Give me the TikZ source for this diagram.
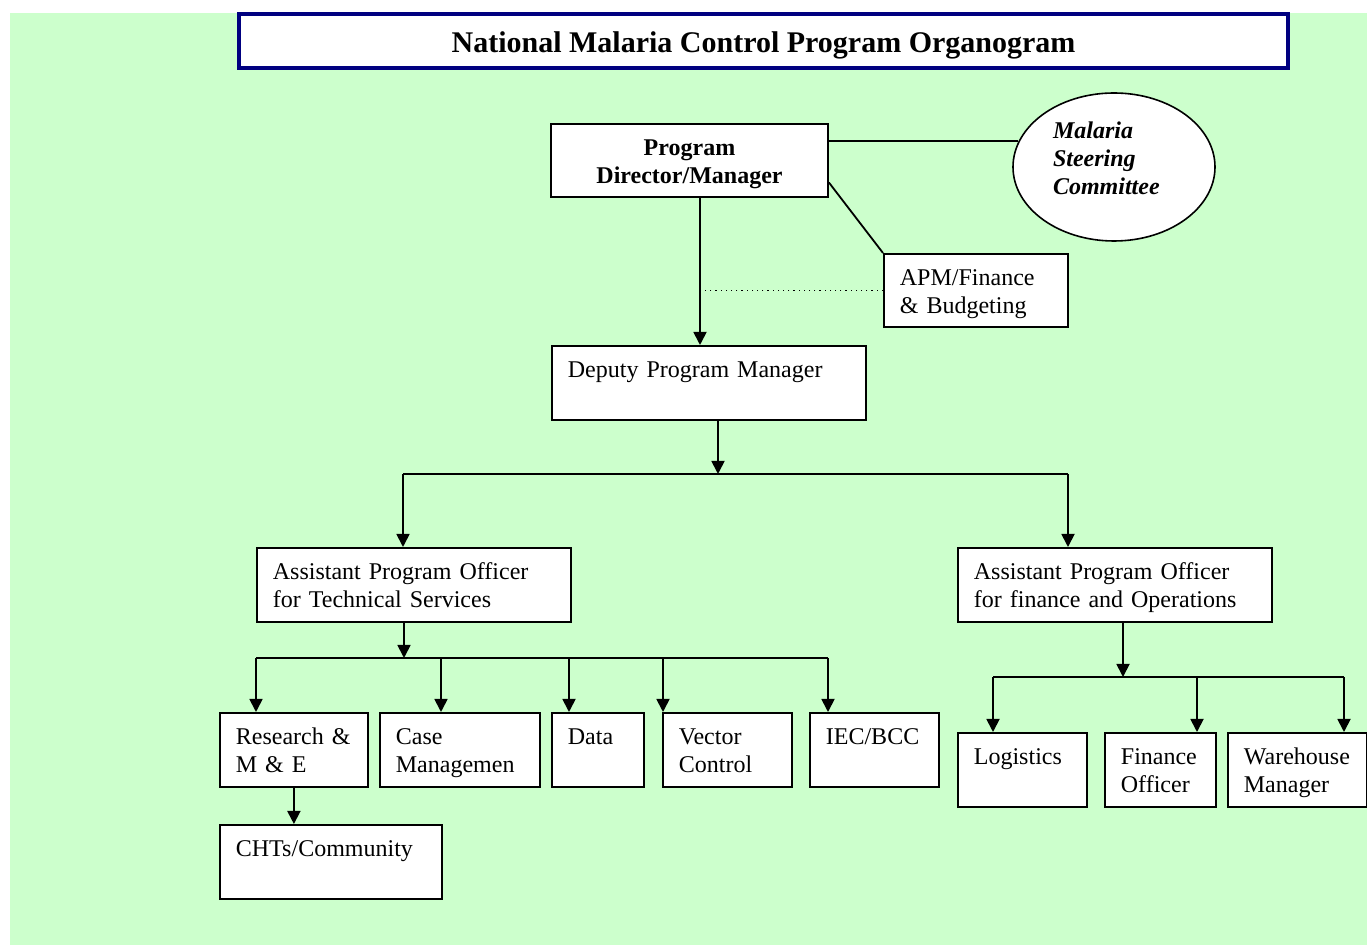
\documentclass[tikz,border=0pt]{standalone}
\usepackage{fontspec}
\setmainfont{Liberation Serif}
\usetikzlibrary{arrows.meta,shapes.geometric}
\definecolor{sheet}{HTML}{CCFFCC}
\definecolor{navy}{HTML}{000080}
\tikzset{
  >={Triangle[length=6.5pt,width=6.5pt]},
  every node/.style={font=\fontsize{12}{14}\selectfont,text=black},
  post/.style={draw,line width=0.9pt,fill=white,anchor=north west,align=left,inner xsep=8pt,inner ysep=0pt,text height=16pt,text depth=21pt},
  headbox/.style={draw,line width=0.9pt,fill=white,align=center,minimum width=138.5pt,minimum height=36.5pt,text height=26pt,text depth=2.9pt,font=\fontsize{12}{14}\selectfont\bfseries},
  committee/.style={ellipse,draw,line width=0.8pt,fill=white,minimum width=101pt,minimum height=74pt,inner sep=0pt,text width=61pt,text height=9pt,text depth=37pt,align=left,font=\fontsize{12}{14}\selectfont\bfseries\itshape},
  titlebox/.style={draw=navy,line width=2pt,fill=white,minimum width=524.5pt,minimum height=27pt,inner sep=0pt,text height=14pt,text depth=2pt,font=\fontsize{15}{18}\selectfont\bfseries},
  arrow/.style={->,line width=0.9pt},
  link/.style={line width=0.9pt},
  dotlink/.style={dotted,line width=0.6pt},
}

\begin{document}
\begin{tikzpicture}[x=0.5pt,y=-0.5pt]
\useasboundingbox (0,0) rectangle (1367,945);
\fill[sheet] (10,13) rectangle (1367,945);

\node[titlebox] (title) at (763.5,41) {National Malaria Control Program Organogram};

\node[headbox] (pdm) at (689.5,160.5) {Program\\Director/Manager};
\node[committee] (msc) at (1114,167) {Malaria\\Steering\\Committee};
\node[post,text width=76pt,text depth=20.5pt] (apm) at (883,253) {APM/Finance\\\& Budgeting};
\node[post,text width=141pt] (dpm) at (551,345) {Deputy Program Manager};

\node[post,text width=141pt] (apot) at (256,547) {Assistant Program Officer\\for Technical Services};
\node[post,text width=141pt] (apof) at (957,547) {Assistant Program Officer\\for finance and Operations};

\node[post,text width=58pt] (res) at (219,712) {Research \&\\M \& E};
\node[post,text width=64pt] (cm) at (379,712) {Case\\Managemen};
\node[post,text width=30pt] (dat) at (551,712) {Data};
\node[post,text width=48.5pt] (vc) at (662,712) {Vector\\Control};
\node[post,text width=48.5pt] (iec) at (809,712) {IEC/BCC};
\node[post,text width=95pt] (chts) at (219,824) {CHTs/Community};

\node[post,text width=48.5pt] (log) at (957,732) {Logistics};
\node[post,text width=39.5pt] (fo) at (1104,732) {Finance\\Officer};
\node[post,text width=53.5pt] (wm) at (1227,732) {Warehouse\\Manager};

\draw[link] (msc.165 -| pdm.east) -- (msc.165);
\draw[link] ([yshift=-11pt]pdm.east) -- (apm.north west);
\coordinate (spine) at ([xshift=5.25pt]pdm.south);
\draw[arrow] (spine) -- (spine |- dpm.north);
\draw[dotlink] (apm.west) -- (apm.west -| spine);

\coordinate (hub) at (718,474);
\coordinate (tl) at (403,474);
\coordinate (tr) at (1068,474);
\draw[arrow] (dpm.south -| hub) -- (hub);
\draw[link] (tl) -- (tr);
\draw[arrow] (tl) -- (tl |- apot.north);
\draw[arrow] (tr) -- (tr |- apof.north);

\coordinate (hubt) at (404,658);
\draw[arrow] (apot.south -| hubt) -- (hubt);
\foreach \n/\x in {res/256,cm/441,dat/569,vc/663,iec/828}{
  \coordinate (d\n) at (\x,658);
  \draw[arrow] (d\n) -- (d\n |- \n.north);
}
\draw[link] (dres) -- (diec);
\draw[arrow] (res.south) -- (res.south |- chts.north);

\coordinate (hubf) at (1123,677);
\draw[arrow] (apof.south -| hubf) -- (hubf);
\foreach \n/\x in {log/993,fo/1197,wm/1344}{
  \coordinate (d\n) at (\x,677);
  \draw[arrow] (d\n) -- (d\n |- \n.north);
}
\draw[link] (dlog) -- (dwm);

\end{tikzpicture}
\end{document}
